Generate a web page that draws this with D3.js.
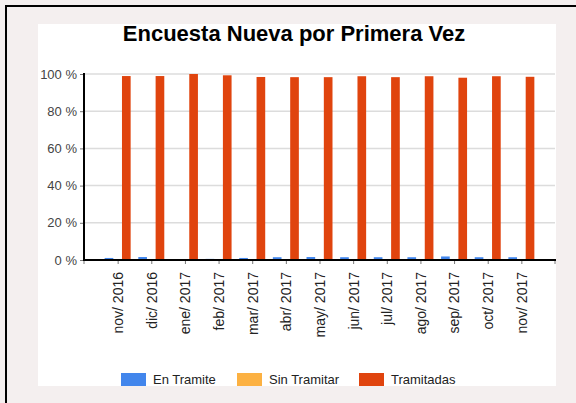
<!DOCTYPE html>
<html>
<head>
<meta charset="utf-8">
<script src="https://cdn.jsdelivr.net/npm/d3@7"></script>
<style>
  body { margin: 0; background: #f4efef; }
  svg { display: block; font-family: "Liberation Sans", Arial, sans-serif; }
</style>
</head>
<body>
<svg width="576" height="403"></svg>
<script>
const width = 576, height = 403;

// data
const months = ["nov/ 2016", "dic/ 2016", "ene/ 2017", "feb/ 2017", "mar/ 2017", "abr/ 2017",
  "may/ 2017", "jun/ 2017", "jul/ 2017", "ago/ 2017", "sep/ 2017", "oct/ 2017", "nov/ 2017"];
const seriesNames = ["En Tramite", "Sin Tramitar", "Tramitadas"];
const enTramite = [1.1, 1.6, 0, 0.6, 1.1, 1.5, 1.6, 1.5, 1.5, 1.5, 1.9, 1.5, 1.5];
const sinTramitar = [0, 0, 0, 0, 0, 0, 0, 0, 0, 0, 0, 0, 0];
const tramitadas = [98.9, 98.9, 100, 99.3, 98.4, 98.3, 98.3, 98.8, 98.3, 98.8, 98.0, 98.8, 98.5];
const yTicks = [0, 20, 40, 60, 80, 100];
const colors = ["#4286ec", "#fcb142", "#e0440e"];

const values = [enTramite, sinTramitar, tramitadas];
const svg = d3.select("svg");

// outer frame
svg.append("rect").attr("x", 6).attr("y", 6).attr("width", 600).attr("height", 420)
  .attr("fill", "none").attr("stroke", "#000").attr("stroke-width", 2);

svg.append("defs").append("clipPath").attr("id", "clip")
  .append("rect").attr("x", 38).attr("y", 24).attr("width", 518).attr("height", 362);

const g = svg.append("g").attr("clip-path", "url(#clip)");
g.append("rect").attr("x", 38).attr("y", 24).attr("width", 518).attr("height", 362).attr("fill", "#fff");

g.append("text").attr("x", 294).attr("y", 41).attr("text-anchor", "middle")
  .attr("font-size", 22).attr("font-weight", "bold").attr("fill", "#000")
  .text("Encuesta Nueva por Primera Vez");

const x = d3.scalePoint().domain(months).range([84, 555]).padding(1);
const xs = d3.scaleBand().domain(seriesNames).range([-13, 13]);
const y = d3.scaleLinear().domain([0, 100]).range([260, 74]);

// gridlines
g.append("g").selectAll("line").data(yTicks.filter(d => d > 0)).join("line")
  .attr("x1", 84).attr("x2", 555).attr("y1", d => y(d)).attr("y2", d => y(d))
  .attr("stroke", "#dcdcdc").attr("stroke-width", 1.5);

// bars
const rows = months.map((m, i) => ({m, vals: values.map((s, k) => ({name: seriesNames[k], v: s[i], k}))}));
g.append("g").selectAll("g").data(rows).join("g")
  .attr("transform", d => `translate(${x(d.m)},0)`)
  .selectAll("rect").data(d => d.vals.filter(e => e.v > 0)).join("rect")
  .attr("x", d => xs(d.name)).attr("width", xs.bandwidth())
  .attr("y", d => y(d.v)).attr("height", d => y(0) - y(d.v))
  .attr("fill", d => colors[d.k]);

// y axis
const yAxis = g.append("g").attr("transform", "translate(84,0)")
  .call(d3.axisLeft(y).tickValues(yTicks).tickSize(4).tickPadding(3).tickFormat(d => d + " %"));
yAxis.select(".domain").remove();
yAxis.selectAll(".tick line").attr("stroke", "#777");
yAxis.selectAll("text").attr("font-size", 13).attr("fill", "#444").attr("font-family", null);
g.append("line").attr("x1", 84).attr("x2", 84).attr("y1", 73).attr("y2", 261)
  .attr("stroke", "#000").attr("stroke-width", 2);

// x axis
const xAxis = g.append("g").attr("transform", "translate(0,260)")
  .call(d3.axisBottom(x).tickSize(4).tickPadding(0));
xAxis.select(".domain").remove();
xAxis.selectAll(".tick line").attr("stroke", "#777");
xAxis.selectAll("text").attr("font-size", 14).attr("fill", "#222").attr("font-family", null)
  .attr("text-anchor", "end").attr("transform", "rotate(-90)")
  .attr("x", -12).attr("y", 0).attr("dy", "0.35em");
g.append("g").selectAll("line").data([84, 555]).join("line")
  .attr("x1", d => d).attr("x2", d => d).attr("y1", 260).attr("y2", 264).attr("stroke", "#777");
g.append("line").attr("x1", 83).attr("x2", 556).attr("y1", 260).attr("y2", 260)
  .attr("stroke", "#000").attr("stroke-width", 2);

// legend
const legendX = [121, 237, 359];
const legend = g.append("g").selectAll("g").data(seriesNames).join("g")
  .attr("transform", (d, i) => `translate(${legendX[i]},373)`);
legend.append("rect").attr("width", 25).attr("height", 14).attr("fill", (d, i) => colors[i]);
legend.append("text").attr("x", 32).attr("y", 10.5).attr("font-size", 13).attr("fill", "#222").text(d => d);
</script>
</body>
</html>
